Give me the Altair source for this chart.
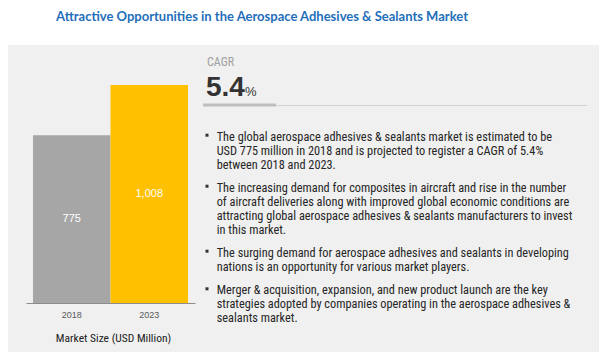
import altair as alt
import pandas as pd

# ---------------- data ----------------
years = ["2018", "2023"]
market_size = [775, 1008]
value_labels = ["775", "1,008"]
bar_colors = ["#a6a6a6", "#ffc000"]

title_text = "Attractive Opportunities in the Aerospace Adhesives & Sealants Market"
axis_title = "Market Size (USD Million)"
cagr_label = "CAGR"
cagr_value = "5.4"
cagr_unit = "%"

bullet_1 = ["The global aerospace adhesives & sealants market is estimated to be",
            "USD 775 million in 2018 and is projected to register a CAGR of 5.4%",
            "between 2018 and 2023."]
bullet_2 = ["The increasing demand for composites in aircraft and rise in the number",
            "of aircraft deliveries along with improved global economic conditions are",
            "attracting global aerospace adhesives & sealants manufacturers to invest",
            "in this market."]
bullet_3 = ["The surging demand for aerospace adhesives and sealants in developing",
            "nations is an opportunity for various market players."]
bullet_4 = ["Merger & acquisition, expansion, and new product launch are the key",
            "strategies adopted by companies operating in the aerospace adhesives &",
            "sealants market."]
bullets = [bullet_1, bullet_2, bullet_3, bullet_4]

# ---------------- layout helpers ----------------
OX, OY = 26, 83          # page position of plot-area origin
NARROW = "Liberation Sans Narrow, Roboto Condensed, DejaVu Sans Condensed, sans-serif"

df = pd.DataFrame({"year": years, "value": market_size, "label": value_labels})
one = pd.DataFrame({"k": [0]})


def px(x):
    return alt.value(x - OX)


def py(y):
    return alt.value(y - OY)


def text_at(text, x, y, **kw):
    return alt.Chart(one).mark_text(text=text, align=kw.pop("align", "left"),
                                    baseline=kw.pop("baseline", "alphabetic"), **kw).encode(
        x=px(x), y=py(y))


panel = alt.Chart(one).mark_rect(color="#f0f0f0").encode(
    x=px(3), x2=px(604), y=py(45), y2=py(352))

bars = alt.Chart(df).mark_bar().encode(
    x=alt.X("year:N", sort=years,
            scale=alt.Scale(paddingInner=0, paddingOuter=0.09),
            axis=alt.Axis(title=axis_title, labelAngle=0, ticks=False,
                          domainColor="#8c8c8c", domainWidth=1,
                          labelFont="Liberation Sans", labelFontSize=9,
                          labelColor="#595959", labelPadding=7,
                          titleFont=NARROW, titleFontSize=11.5, titleFontWeight="normal",
                          titleColor="#1a1a1a", titleBaseline="alphabetic",
                          titleY=38.5, titleX=87, titleAlign="center", zindex=1)),
    y=alt.Y("value:Q", scale=alt.Scale(domain=[0, 1017], nice=False), axis=None),
    color=alt.Color("year:N", scale=alt.Scale(domain=years, range=bar_colors), legend=None),
)

bar_text = alt.Chart(df).transform_calculate(mid="datum.value / 2").mark_text(
    color="white", font="Liberation Sans", fontSize=11, baseline="middle").encode(
    x=alt.X("year:N", sort=years),
    y=alt.Y("mid:Q"),
    text="label:N",
)

layers = [panel, bars, bar_text]

# title
layers.append(text_at(title_text, 262, 20.5, align="center", font="Lato", fontSize=13,
                      fontWeight="bold", color="#1f6fba"))

# CAGR block
layers.append(text_at(cagr_label, 207, 65.7, font=NARROW, fontSize=12, color="#a0a0a0"))
layers.append(text_at(cagr_value, 206, 96, font="Liberation Sans", fontSize=28,
                      fontWeight="bold", color="#333333"))
layers.append(text_at(cagr_unit, 245, 96, font="Liberation Sans", fontSize=13,
                      color="#333333"))
layers.append(alt.Chart(one).mark_rule(color="#d3d3d3", strokeWidth=1).encode(
    x=px(276), x2=px(587), y=py(105.5)))
layers.append(alt.Chart(one).mark_rule(color="#bfbfbf", strokeWidth=3).encode(
    x=px(203), x2=px(276), y=py(105)))

# bullets
first_baselines = [140.7, 191.7, 256.7, 294.3]
for lines, yb in zip(bullets, first_baselines):
    layers.append(alt.Chart(one).mark_point(shape="square", filled=True, size=9,
                                            color="#333333", opacity=1).encode(
        x=px(207), y=py(yb - 5.5)))
    layers.append(text_at(lines, 216.7, yb, font=NARROW, fontSize=12.3, lineHeight=14,
                          color="#262626"))

chart = alt.layer(*layers).properties(
    width=169, height=220,
    autosize="none",
    padding={"left": OX - 8, "top": OY - 8, "right": 591 - (OX - 8) - 169,
             "bottom": 344 - (OY - 8) - 220},
    background="white",
).configure_view(stroke=None).configure(font="Liberation Sans")

chart.save("out.html", embed_options={"renderer": "svg", "actions": False})
